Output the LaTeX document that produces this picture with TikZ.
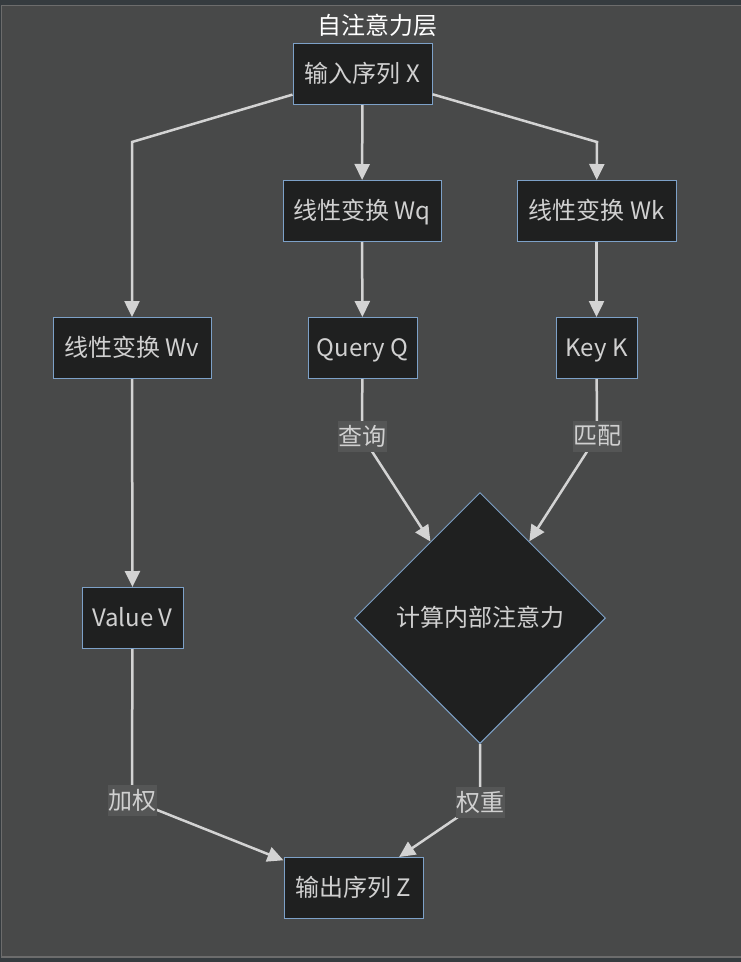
\documentclass[tikz,border=0pt]{standalone}
\usepackage{fontspec}
\setmainfont{Noto Sans CJK SC}
\usepackage{tikz}
\usetikzlibrary{shapes.geometric,arrows.meta,positioning,calc}
\usepackage{xcolor}

\definecolor{pagebg}{HTML}{353B3F}
\definecolor{clusterbg}{HTML}{484949}
\definecolor{clusterline}{HTML}{6C6C6C}
\definecolor{boxfill}{HTML}{1F2020}
\definecolor{boxline}{HTML}{7DA1C8}
\definecolor{boxtext}{HTML}{D0D0D0}
\definecolor{edgecol}{HTML}{D3D3D3}
\definecolor{labelbg}{HTML}{555656}

\tikzset{
  box/.style={draw=boxline, line width=1pt, fill=boxfill, text=boxtext,
    inner sep=0pt, minimum height=61pt, text height=19pt, text depth=3pt,
    font=\fontsize{24}{27}\selectfont},
  decide/.style={diamond, aspect=1, draw=boxline, line width=1pt, fill=boxfill,
    text=boxtext, inner sep=0pt, minimum width=251pt, minimum height=251pt,
    text height=19pt, text depth=3pt, font=\fontsize{24}{27}\selectfont},
  edge/.style={draw=edgecol, line width=2.5pt,
    -{Triangle[length=16pt,width=15pt]}},
  elabel/.style={fill=labelbg, text=boxtext, inner sep=0.5pt,
    minimum height=31pt, font=\fontsize{24}{27}\selectfont},
}

\begin{document}
\begin{tikzpicture}[x=1pt, y=-1pt]
    % Background and cluster
    \fill[pagebg] (0,0) rectangle (741,962);
    \useasboundingbox (0,0) rectangle (741,962);
    \fill[clusterbg] (1.5,5.5) rectangle (741,957);
    \draw[clusterline, line width=1.5pt] (741,5.5) -- (1.5,5.5) -- (1.5,957) -- (741,957);
    \node[text=white, font=\fontsize{24}{27}\selectfont] (title) at (377,25) {自注意力层};

    % Input
    \node[box, minimum width=139pt] (inx) at (362.5,74) {输入序列 X};

    % Linear maps
    \node[box, minimum width=158pt] (wq) at (362,211) {线性变换 Wq};
    \node[box, minimum width=159pt] (wk) at (596.5,211) {线性变换 Wk};
    \node[box, minimum width=158pt] (wv) at (132,348) {线性变换 Wv};

    % Query, key, value
    \node[box, minimum width=109pt] (query) at (362.5,348) {Query Q};
    \node[box, minimum width=81pt] (key) at (596.5,348) {Key K};
    \node[box, minimum width=101pt] (value) at (132.5,618) {Value V};

    % Attention
    \node[decide] (calc) at (480,618) {计算内部注意力};

    % Output
    \node[box, minimum width=139pt] (outz) at (353.5,888) {输出序列 Z};

    % Bends and label points
    \coordinate (bendv) at (132,142);
    \coordinate (bendk) at (597,142);
    \coordinate (lq) at (362,436);
    \coordinate (lk) at (597,436);
    \coordinate (lv) at (132,800);
    \coordinate (lw) at (480,802);

    % Connectors
    \draw[edge] (inx) -- (bendv) -- (wv);
    \draw[edge] (inx) -- (wq);
    \draw[edge] (inx) -- (bendk) -- (wk);
    \draw[edge] (wq) -- (query);
    \draw[edge] (wk) -- (key);
    \draw[edge] (wv) -- (value);
    \draw[edge] (query) -- (lq) node[elabel] (tq) {查询} -- (calc);
    \draw[edge] (key) -- (lk) node[elabel] (tk) {匹配} -- (calc);
    \draw[edge] (value) -- (lv) node[elabel] (tv) {加权} -- (outz);
    \draw[edge] (calc) -- (lw) node[elabel] (tw) {权重} -- (outz);
\end{tikzpicture}
\end{document}
